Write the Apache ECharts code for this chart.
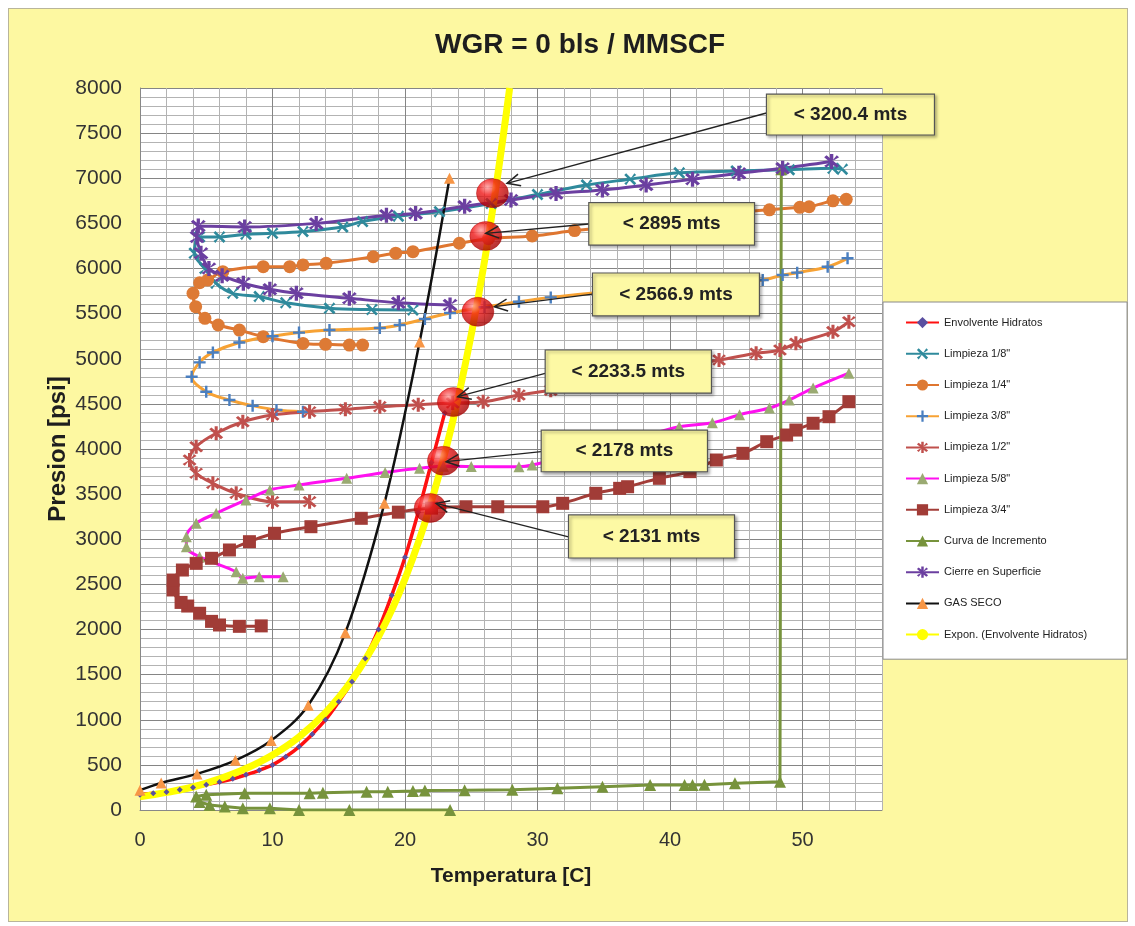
<!DOCTYPE html>
<html><head><meta charset="utf-8">
<script src="https://cdn.jsdelivr.net/npm/echarts@6/dist/echarts.min.js"></script>
<style>
html,body{margin:0;padding:0;background:#fff;}
#panel{position:absolute;left:8px;top:8px;width:1118px;height:912px;background:#fdf8a1;border:1px solid #b9b59a;}
#c{position:absolute;left:0;top:0;width:1135px;height:926px;}
</style>
</head><body><div id="panel"></div><div id="c"></div>
<script>
// ---------------- data ----------------
const envX = [0, 1, 2, 3, 4, 5, 6, 7, 8, 9, 10, 11, 12, 13, 14, 15, 16, 17, 18, 19, 20, 21, 22, 23];
const envY = [170, 185, 200, 225, 250, 280, 310, 345, 390, 440, 500, 590, 700, 840, 1000, 1200, 1420, 1680, 2000, 2380, 2800, 3300, 3850, 4400];

const l18X = [20.6, 17.5, 14.3, 11.0, 9.0, 7.0, 5.75, 4.9, 4.1, 4.5, 6.0, 8.0, 10.0, 12.3, 15.3, 16.8, 19.5, 22.6, 26.5, 30, 33.7, 37, 40.7, 45, 49, 52.3, 53];
const l18Y = [5540, 5545, 5560, 5620, 5690, 5725, 5836, 6000, 6170, 6350, 6350, 6380, 6390, 6410, 6460, 6520, 6580, 6630, 6720, 6820, 6925, 6990, 7060, 7080, 7095, 7110, 7100];

const l14X = [16.8, 15.8, 14.0, 12.3, 9.3, 7.5, 5.9, 4.9, 4.2, 4.0, 4.5, 5.1, 6.25, 9.3, 11.3, 12.3, 14.05, 17.6, 19.3, 20.6, 24.1, 26.3, 29.6, 32.8, 36, 40, 44, 45.3, 47.5, 49.8, 50.5, 52.3, 53.3];
const l14Y = [5152, 5152, 5160, 5170, 5245, 5318, 5374, 5448, 5577, 5725, 5842, 5872, 5965, 6020, 6020, 6040, 6057, 6130, 6170, 6186, 6280, 6330, 6360, 6420, 6470, 6530, 6590, 6625, 6650, 6678, 6684, 6750, 6766];

const l38X = [12.3, 10.3, 8.5, 6.75, 5.0, 3.9, 4.5, 5.5, 7.5, 10, 12, 14.3, 18.1, 19.6, 21.5, 23.4, 26, 28.6, 31, 35, 40, 44, 47.0, 48.5, 49.6, 51.9, 53.4];
const l38Y = [4413, 4432, 4480, 4543, 4635, 4800, 4960, 5070, 5180, 5250, 5290, 5318, 5340, 5374, 5440, 5507, 5570, 5632, 5680, 5740, 5800, 5840, 5872, 5928, 5954, 6020, 6113];

const l12X = [12.8, 10.0, 7.26, 5.5, 4.24, 3.74, 4.24, 5.75, 7.76, 10.0, 12.8, 15.5, 18.1, 21.0, 23.6, 25.9, 28.6, 31, 35, 39, 43.7, 46.5, 48.3, 49.5, 52.3, 53.5];
const l12Y = [3416, 3416, 3509, 3620, 3731, 3878, 4025, 4174, 4302, 4377, 4413, 4440, 4469, 4490, 4510, 4524, 4598, 4650, 4750, 4860, 4986, 5060, 5097, 5171, 5300, 5410];

const l58X = [10.8, 9.0, 7.76, 7.26, 4.5, 3.5, 3.5, 4.24, 5.75, 8.0, 9.8, 12.0, 15.6, 18.5, 21.1, 22.9, 25, 28.6, 29.6, 33, 37, 40.7, 43.2, 45.25, 47.5, 49.0, 50.8, 53.5];
const l58Y = [2585, 2585, 2567, 2640, 2806, 2917, 3028, 3176, 3287, 3435, 3546, 3601, 3675, 3740, 3786, 3810, 3805, 3804, 3823, 3950, 4100, 4247, 4290, 4380, 4454, 4543, 4675, 4840];

const l34X = [9.15, 7.5, 6.0, 5.4, 4.5, 3.6, 3.1, 2.5, 2.5, 3.2, 4.24, 5.4, 6.75, 8.26, 10.15, 12.9, 16.7, 19.5, 22.0, 24.6, 27, 30.4, 31.9, 34.4, 36.2, 36.8, 39.2, 41.5, 43.5, 45.5, 47.3, 48.8, 49.5, 50.8, 52.0, 53.5];
const l34Y = [2040, 2035, 2050, 2090, 2180, 2260, 2300, 2438, 2548, 2659, 2733, 2789, 2881, 2973, 3066, 3139, 3232, 3300, 3345, 3360, 3360, 3360, 3398, 3509, 3564, 3582, 3675, 3749, 3878, 3952, 4081, 4155, 4210, 4285, 4358, 4524];

const curX = [23.4, 15.8, 12.0, 9.8, 7.76, 6.4, 5.25, 4.5, 4.24, 5.0, 7.9, 12.8, 13.8, 17.1, 18.7, 20.6, 21.5, 24.5, 28.1, 31.5, 34.9, 38.5, 41.1, 41.7, 42.6, 44.9, 48.3, 48.4];
const curY = [0, 0, 0, 20, 20, 40, 55, 90, 150, 170, 185, 185, 190, 203, 203, 210, 215, 218, 225, 240, 258, 277, 277, 277, 280, 296, 314, 7100];

const cieX = [23.4, 19.5, 15.8, 11.8, 9.8, 7.8, 6.2, 5.2, 4.6, 4.3, 4.4, 7.9, 13.3, 18.6, 20.8, 24.5, 28, 31.4, 34.9, 38.2, 41.7, 45.2, 48.5, 52.2];
const cieY = [5595, 5620, 5670, 5725, 5770, 5836, 5920, 6000, 6170, 6350, 6470, 6460, 6500, 6590, 6610, 6690, 6760, 6830, 6870, 6925, 6990, 7055, 7110, 7185];

const gasX = [0, 1.6, 4.3, 7.2, 9.9, 12.7, 15.5, 18.45, 21.1, 23.36];
const gasY = [220, 300, 400, 550, 770, 1160, 1965, 3400, 5185, 7000];

const trendX = [0, 2, 4, 6, 8, 10, 12, 14, 16, 18, 20, 22, 24, 26, 27.9];
const trendY = [145, 195, 255, 345, 460, 610, 810, 1080, 1440, 1920, 2560, 3420, 4560, 6080, 8000];

const ballX = [26.6, 26.1, 25.5, 23.65, 22.9, 21.9];
const ballY = [6835, 6360, 5520, 4520, 3870, 3346];
const ballLabels = ['< 3200.4 mts', '< 2895 mts', '< 2566.9 mts', '< 2233.5 mts', '< 2178 mts', '< 2131 mts'];

const xTicks = [0, 10, 20, 30, 40, 50];
const yTicks = [0, 500, 1000, 1500, 2000, 2500, 3000, 3500, 4000, 4500, 5000, 5500, 6000, 6500, 7000, 7500, 8000];

// ---------------- annotation layout (in axis units) ----------------
const boxLeft  = [47.28, 33.87, 34.15, 30.58, 30.28, 32.34];
const boxRight = [59.96, 46.38, 46.75, 43.13, 42.83, 44.87];
const boxTop   = [7933, 6729, 5950, 5097, 4210, 3269];
const boxBot   = [7479, 6260, 5474, 4620, 3748, 2792];
const arrowFromY = [7723, 6493, 5717, 4838, 3970, 3025];
const arrowToX = [27.7, 26.1, 26.75, 23.98, 23.1, 22.35];
const arrowToY = [6944, 6390, 5577, 4579, 3859, 3398];

const zip = (xs, ys) => xs.map((x, i) => [x, ys[i]]);

const SYM_STAR = 'path://M-1.1,-6L-1.1,6L1.1,6L1.1,-6Z M3.4,5.0L5.0,3.4L-3.4,-5.0L-5.0,-3.4Z M-3.4,5.0L3.4,-5.0L5.0,-3.4L-5.0,3.4Z';
const SYM_X = 'path://M3.4,5.0L5.0,3.4L-3.4,-5.0L-5.0,-3.4Z M-3.4,5.0L3.4,-5.0L5.0,-3.4L-5.0,3.4Z';
const SYM_PLUS = 'path://M-1,-5L1,-5L1,-1L5,-1L5,1L1,1L1,5L-1,5L-1,1L-5,1L-5,-1L-1,-1Z';

const FONT = 'Liberation Sans, Arial, sans-serif';

function lineSeries(name, data, color, width, symbol, symSize, symColor, smooth) {
  return {
    name, type: 'line', data, smooth: smooth === undefined ? 0.35 : smooth,
    symbol, symbolSize: symSize, showSymbol: symbol !== 'none',
    lineStyle: { color, width },
    itemStyle: { color: symColor || color },
    emphasis: { disabled: true }, animation: false
  };
}

const names = ['Envolvente Hidratos', 'Limpieza 1/8"', 'Limpieza 1/4"', 'Limpieza 3/8"', 'Limpieza 1/2"', 'Limpieza 5/8"', 'Limpieza 3/4"', 'Curva de Incremento', 'Cierre en Superficie', 'GAS SECO', 'Expon. (Envolvente Hidratos)'];

const series = [
  lineSeries(names[0], zip(envX, envY), '#ff1010', 3.5, 'diamond', 6, '#5a4fa0'),
  lineSeries(names[1], zip(l18X, l18Y), '#2f8a9c', 3, SYM_X, 12, '#2f8a9c'),
  lineSeries(names[2], zip(l14X, l14Y), '#df7630', 3, 'circle', 13, '#dd7a35'),
  lineSeries(names[3], zip(l38X, l38Y), '#f7a234', 3, SYM_PLUS, 12, '#4a7fc0'),
  lineSeries(names[4], zip(l12X, l12Y), '#c0504d', 3, SYM_STAR, 14, '#c0504d'),
  lineSeries(names[5], zip(l58X, l58Y), '#ff10f0', 3, 'triangle', 11, '#9aaa72'),
  lineSeries(names[6], zip(l34X, l34Y), '#a33d38', 3, 'rect', 13, '#a13c37'),
  lineSeries(names[7], zip(curX, curY), '#77933c', 3, 'triangle', 12, '#77933c', false),
  lineSeries(names[8], zip(cieX, cieY), '#6b3fa0', 3, SYM_STAR, 15, '#6b3fa0'),
  lineSeries(names[9], zip(gasX, gasY), '#111111', 2.5, 'triangle', 11, '#f79646'),
  lineSeries(names[10], zip(trendX, trendY), '#ffff00', 7, 'none', 0, '#ffff00', 0.4),
  {
    name: 'puntos', type: 'scatter', data: zip(ballX, ballY), symbol: 'circle', symbolSize: [32, 29], z: 5,
    itemStyle: {
      color: { type: 'radial', x: 0.35, y: 0.3, r: 0.75, colorStops: [
        { offset: 0, color: '#ff9a9a' }, { offset: 0.35, color: '#f01818' }, { offset: 1, color: '#9c0000' }] },
      borderColor: '#b00000', borderWidth: 0.5
    },
    emphasis: { disabled: true }, animation: false
  }
];

const chart = echarts.init(document.getElementById('c'), null, { renderer: 'canvas' });
const majorC = '#858585', minorC = '#b3b3b3';
chart.setOption({
  animation: false,
  backgroundColor: 'transparent',
  textStyle: { fontFamily: FONT },
  title: {
    text: 'WGR = 0 bls / MMSCF', left: 430, top: 26,
    textStyle: { fontSize: 28, fontWeight: 'bold', color: '#1e1e1e', fontFamily: FONT }
  },
  grid: { left: 140, right: 253, top: 88, bottom: 116, show: true, backgroundColor: '#ffffff', borderWidth: 0 },
  legend: {
    data: names, orient: 'vertical', left: 883, top: 302,
    padding: [15, 40, 19, 22], itemGap: 20, itemWidth: 33, itemHeight: 14,
    backgroundColor: '#ffffff', borderColor: '#8a8a8a', borderWidth: 1,
    textStyle: { fontSize: 11, color: '#222', fontFamily: FONT }, selectedMode: false
  },
  xAxis: {
    type: 'value', min: 0, max: 56, interval: 2,
    name: 'Temperatura [C]', nameLocation: 'middle', nameGap: 56,
    nameTextStyle: { fontSize: 21, fontWeight: 'bold', color: '#1e1e1e', fontFamily: FONT },
    axisLine: { show: true, lineStyle: { color: '#888', width: 1 } },
    axisTick: { show: false },
    axisLabel: { fontSize: 20, color: '#333', margin: 20, fontFamily: FONT,
      formatter: v => (xTicks.indexOf(v) >= 0 ? String(v) : '') },
    splitLine: { show: true, lineStyle: { color: [majorC, minorC, minorC, minorC, minorC], width: 1 } }
  },
  yAxis: {
    type: 'value', min: 0, max: 8000, interval: 100,
    name: 'Presion [psi]', nameLocation: 'middle', nameGap: 70, nameRotate: 90, nameMoveOverlap: false,
    nameTextStyle: { fontSize: 24, fontWeight: 'bold', color: '#1e1e1e', fontFamily: FONT },
    axisLine: { show: true, lineStyle: { color: '#888', width: 1 } },
    axisTick: { show: false },
    axisLabel: { fontSize: 21, color: '#333', margin: 18, fontFamily: FONT,
      formatter: v => (yTicks.indexOf(v) >= 0 ? String(v) : '') },
    splitLine: { show: true, lineStyle: { color: [majorC, minorC, minorC, minorC, minorC], width: 1 } }
  },
  series
});

// ---------------- annotations placed through the chart's own scales ----------------
const toPx = (x, y) => chart.convertToPixel({ gridIndex: 0 }, [x, y]);
const gfx = [];
for (let i = 0; i < ballLabels.length; i++) {
  const tl = toPx(boxLeft[i], boxTop[i]);
  const br = toPx(boxRight[i], boxBot[i]);
  const p0 = toPx(boxLeft[i], arrowFromY[i]);
  const p1 = toPx(arrowToX[i], arrowToY[i]);
  const dx = p1[0] - p0[0], dy = p1[1] - p0[1];
  const len = Math.hypot(dx, dy), ux = dx / len, uy = dy / len;
  const hl = 13, hw = 6;
  const a = [p1[0] - ux * hl - uy * hw, p1[1] - uy * hl + ux * hw];
  const b = [p1[0] - ux * hl + uy * hw, p1[1] - uy * hl - ux * hw];
  gfx.push({ type: 'line', z: 100, shape: { x1: p0[0], y1: p0[1], x2: p1[0], y2: p1[1] }, style: { stroke: '#222', lineWidth: 1.3 } });
  gfx.push({ type: 'polyline', z: 100, shape: { points: [a, p1, b] }, style: { stroke: '#222', lineWidth: 1.5, fill: 'none' } });
  gfx.push({ type: 'rect', z: 101, shape: { x: tl[0], y: tl[1], width: br[0] - tl[0], height: br[1] - tl[1] },
    style: { fill: '#fdf9a4', stroke: '#555', lineWidth: 1.2, shadowBlur: 3, shadowOffsetX: 2, shadowOffsetY: 2, shadowColor: 'rgba(0,0,0,0.35)' } });
  gfx.push({ type: 'text', z: 102, x: (tl[0] + br[0]) / 2, y: (tl[1] + br[1]) / 2,
    style: { text: ballLabels[i], fill: '#222', font: 'bold 19px ' + FONT, align: 'center', verticalAlign: 'middle', textAlign: 'center', textVerticalAlign: 'middle' } });
}
chart.setOption({ graphic: gfx });
</script></body></html>
